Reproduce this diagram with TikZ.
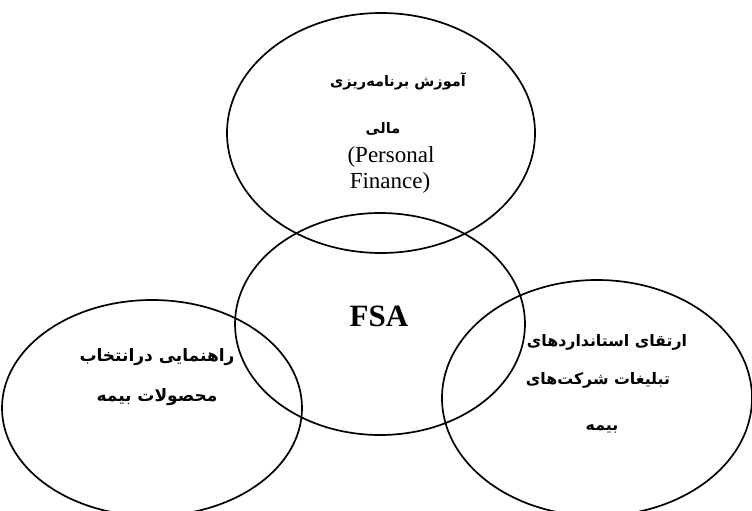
\documentclass[tikz,border=0pt]{standalone}
\usepackage{fontspec}
\setmainfont{Liberation Serif}
\newfontfamily\fa[Script=Arabic]{DejaVu Sans}
\TeXXeTstate=1
\usetikzlibrary{shapes.geometric}
\begin{document}
\begin{tikzpicture}[x=1pt,y=-1pt,
  bubble/.style={draw=black, line width=1.7pt, ellipse, inner sep=0pt},
  fatext/.style={font=\fa\bfseries\fontsize{14.5}{14.5}\selectfont, inner sep=0pt},
  fabig/.style={font=\fa\bfseries\fontsize{17}{17}\selectfont, inner sep=0pt},
  faright/.style={font=\fa\bfseries\fontsize{15.8}{15.8}\selectfont, inner sep=0pt},
  latext/.style={font=\fontsize{23}{23}\selectfont, inner sep=0pt}]
\useasboundingbox (0,0) rectangle (752,511);
\fill[white] (0,0) rectangle (752,511);
\clip (0,0) rectangle (752,511);
\node[bubble, minimum width=308pt, minimum height=240pt] (top) at (381,133) {};
\node[bubble, minimum width=290pt, minimum height=222pt] (mid) at (380,324) {};
\node[bubble, minimum width=300pt, minimum height=216pt] (left) at (152,408) {};
\node[bubble, minimum width=310pt, minimum height=236pt] (right) at (597,398) {};

\node[fatext] (t1) at (398,81) {\beginR آموزش برنامه‌ریزی\endR};
\node[fatext] (t2) at (383,129) {\beginR مالی\endR};
\node[latext] (t3) at (391,157) {(Personal};
\node[latext] (t4) at (390,183) {Finance)};

\node[font=\bfseries\fontsize{31}{31}\selectfont, inner sep=0pt] (fsa) at (379,316) {FSA};

\node[fabig] (l1) at (157,357) {\beginR راهنمایی درانتخاب\endR};
\node[fabig] (l2) at (157,397) {\beginR محصولات بیمه\endR};

\node[faright] (r1) at (607,342) {\beginR ارتقای استانداردهای\endR};
\node[faright] (r2) at (598,380) {\beginR تبلیغات شرکت‌های\endR};
\node[faright] (r3) at (602,429) {\beginR بیمه\endR};
\end{tikzpicture}
\end{document}
